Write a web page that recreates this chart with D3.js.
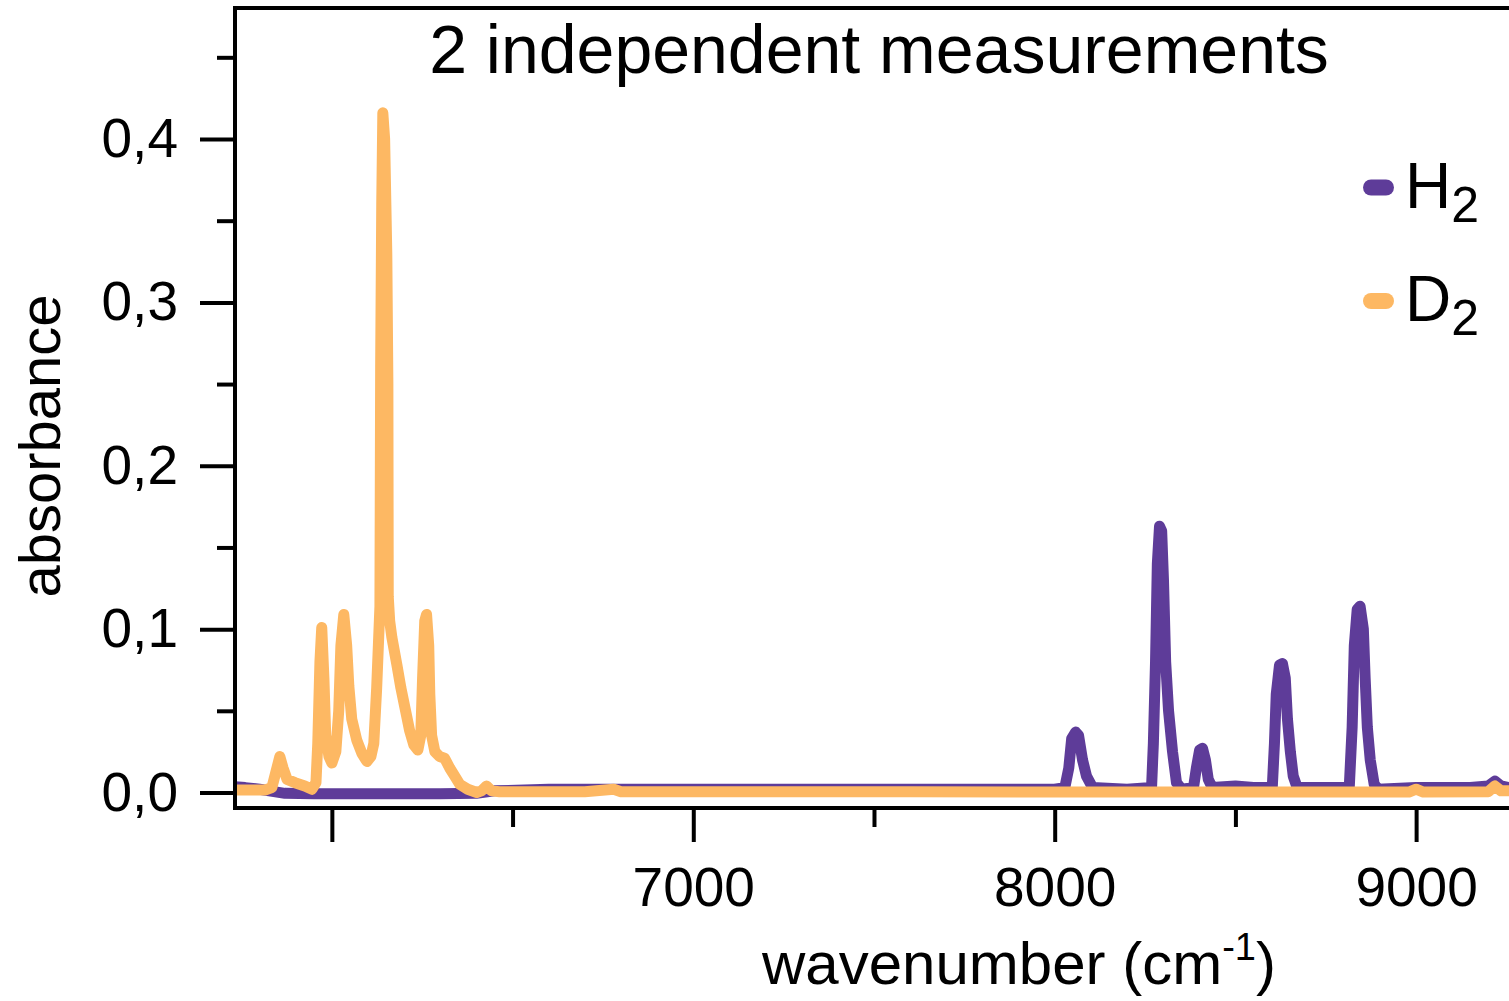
<!DOCTYPE html>
<html>
<head>
<meta charset="utf-8">
<script src="https://cdn.jsdelivr.net/npm/d3@7"></script>
<style>
  body { margin: 0; background: #fff; }
  svg { display: block; font-family: 'Liberation Sans', Arial, sans-serif; }
</style>
</head>
<body>
<svg id="chart"></svg>
<script>
// D2 spectrum
const d2Wavenumber = [5732, 5815, 5834, 5848, 5856, 5865, 5876, 5898, 5925, 5945, 5956, 5961, 5967, 5972, 5978, 5983,
  5992, 6000, 6011, 6019, 6025, 6033, 6041, 6047, 6055, 6069, 6083, 6097, 6108, 6116, 6124, 6133, 6135, 6138, 6141,
  6146, 6152, 6155, 6156, 6160, 6166, 6180, 6191, 6204, 6215, 6227, 6238, 6246, 6251, 6257, 6262, 6268, 6271, 6276,
  6285, 6298, 6312, 6326, 6340, 6354, 6376, 6401, 6414, 6428, 6442, 6464, 6700, 6780, 6800, 7200, 7600, 8000, 8500,
  8980, 9000, 9020, 9200, 9218, 9235, 9257];
const d2Absorbance = [0.0015, 0.0015, 0.003, 0.015, 0.022, 0.015, 0.008, 0.006, 0.004, 0.002, 0.006, 0.03, 0.08, 0.101, 0.07, 0.035,
  0.022, 0.018, 0.025, 0.05, 0.09, 0.109, 0.09, 0.065, 0.045, 0.032, 0.024, 0.019, 0.022, 0.03, 0.064, 0.114, 0.26, 0.36, 0.416,
  0.40, 0.33, 0.25, 0.12, 0.105, 0.095, 0.078, 0.064, 0.05, 0.038, 0.029, 0.026, 0.035, 0.07, 0.105, 0.109, 0.09, 0.06, 0.035,
  0.025, 0.022, 0.021, 0.015, 0.01, 0.005, 0.002, 0.0, 0.001, 0.004, 0.001, 0.0005, 0.0005, 0.002, 0.0005, 0.0005, 0.0005, 0.0003, 0.0003,
  0.0003, 0.002, 0.0003, 0.0005, 0.004, 0.001, 0.001];

// H2 spectrum
const h2Wavenumber = [5732, 5760, 5800, 5840, 5870, 5950, 6100, 6300, 6400, 6450, 6600, 7000, 7500, 8000,
  8028, 8039, 8047, 8058, 8066, 8077, 8088, 8105, 8200,
  8268, 8273, 8279, 8284, 8290, 8296, 8301, 8307, 8315, 8326, 8337, 8351,
  8384, 8392, 8401, 8409, 8417, 8425, 8436, 8500, 8550,
  8602, 8608, 8613, 8622, 8630, 8638, 8644, 8652, 8660, 8671, 8750,
  8815, 8823, 8829, 8837, 8845, 8854, 8859, 8865, 8873, 8884, 8895,
  9000, 9150, 9200, 9218, 9235, 9257];
const h2Absorbance = [0.0035, 0.003, 0.002, 0.0005, -0.0005, -0.0008, -0.0008, -0.0008, -0.0005, 0.001, 0.002, 0.002, 0.002, 0.002,
  0.003, 0.015, 0.033, 0.037, 0.035, 0.02, 0.01, 0.003, 0.002,
  0.003, 0.03, 0.08, 0.14, 0.163, 0.16, 0.13, 0.08, 0.05, 0.025, 0.006, 0.002,
  0.003, 0.015, 0.026, 0.027, 0.02, 0.008, 0.003, 0.004, 0.003,
  0.003, 0.03, 0.06, 0.078, 0.079, 0.07, 0.045, 0.025, 0.01, 0.003, 0.003,
  0.003, 0.04, 0.09, 0.112, 0.114, 0.1, 0.07, 0.04, 0.02, 0.005, 0.002,
  0.003, 0.003, 0.004, 0.007, 0.004, 0.003];

const xMajorTicks = [6000, 7000, 8000, 9000];
const xMinorTicks = [6500, 7500, 8500];
const xTickLabels = ['', '7000', '8000', '9000'];
const yMajorTicks = [0, 0.1, 0.2, 0.3, 0.4];
const yMinorTicks = [0.05, 0.15, 0.25, 0.35, 0.45];
const yTickLabels = ['0,0', '0,1', '0,2', '0,3', '0,4'];
const seriesNames = ['H', 'D'];
const seriesColors = ['#5e3c99', '#fdb863'];

const width = 1509, height = 1001;
const plot = {left: 235, right: 1509, top: 8, bottom: 808};

const svg = d3.select('#chart')
    .attr('width', width)
    .attr('height', height);

// scales
const x = d3.scaleLinear()
    .domain([5732, 9257])
    .range([plot.left, plot.right]);
const y = d3.scaleLinear()
    .domain([0, 0.4])
    .range([792.5, 139]);

// clip the spectra to the frame
svg.append('defs').append('clipPath')
    .attr('id', 'plot-clip')
  .append('rect')
    .attr('x', plot.left)
    .attr('y', plot.top)
    .attr('width', plot.right - plot.left)
    .attr('height', plot.bottom - plot.top);

const line = d3.line()
    .x(d => x(d[0]))
    .y(d => y(d[1]));

const h2Data = h2Wavenumber.map((w, i) => [w, h2Absorbance[i]]);
const d2Data = d2Wavenumber.map((w, i) => [w, d2Absorbance[i]]);

const lines = svg.append('g').attr('clip-path', 'url(#plot-clip)');
[h2Data, d2Data].forEach((data, i) => {
  lines.append('path')
      .datum(data)
      .attr('fill', 'none')
      .attr('stroke', seriesColors[i])
      .attr('stroke-width', 11)
      .attr('stroke-linejoin', 'round')
      .attr('stroke-linecap', 'round')
      .attr('d', line);
});

// y axis: major + minor ticks
const yAxisMajor = d3.axisLeft(y)
    .tickValues(yMajorTicks)
    .tickSize(35)
    .tickPadding(22)
    .tickFormat((d, i) => yTickLabels[i]);
const yAxisMinor = d3.axisLeft(y)
    .tickValues(yMinorTicks)
    .tickSize(18)
    .tickFormat('');

svg.append('g')
    .attr('transform', `translate(${plot.left},0)`)
    .call(yAxisMajor);
svg.append('g')
    .attr('transform', `translate(${plot.left},0)`)
    .call(yAxisMinor);

// x axis
const xAxisMajor = d3.axisBottom(x)
    .tickValues(xMajorTicks)
    .tickSize(34)
    .tickPadding(25)
    .tickFormat((d, i) => xTickLabels[i]);
const xAxisMinor = d3.axisBottom(x)
    .tickValues(xMinorTicks)
    .tickSize(19)
    .tickFormat('');

svg.append('g')
    .attr('transform', `translate(0,${plot.bottom})`)
    .call(xAxisMajor);
svg.append('g')
    .attr('transform', `translate(0,${plot.bottom})`)
    .call(xAxisMinor);

svg.selectAll('.domain').remove();
svg.selectAll('.tick line')
    .attr('stroke', '#000')
    .attr('stroke-width', 4);
svg.selectAll('.tick text')
    .attr('fill', '#000')
    .style('font-family', "'Liberation Sans', Arial, sans-serif")
    .style('font-size', '55px');

// frame (left, top, bottom)
svg.append('path')
    .attr('d', `M${plot.right},${plot.top}H${plot.left}V${plot.bottom}H${plot.right}`)
    .attr('fill', 'none')
    .attr('stroke', '#000')
    .attr('stroke-width', 4);

// title
svg.append('text')
    .attr('x', 879)
    .attr('y', 73)
    .attr('text-anchor', 'middle')
    .style('font-size', '68px')
    .text('2 independent measurements');

// axis titles
const xLabel = svg.append('text')
    .attr('x', 762)
    .attr('y', 984)
    .style('font-size', '60px');
xLabel.append('tspan').text('wavenumber (cm');
xLabel.append('tspan').attr('dy', -24).style('font-size', '38px').text('-1');
xLabel.append('tspan').attr('dy', 24).text(')');

svg.append('text')
    .attr('transform', 'translate(60,446) rotate(-90)')
    .attr('text-anchor', 'middle')
    .style('font-size', '58px')
    .text('absorbance');

// legend
const legendY = [187.5, 301];
seriesNames.forEach((name, i) => {
  const g = svg.append('g').attr('transform', `translate(0,${legendY[i]})`);
  g.append('line')
      .attr('x1', 1371).attr('x2', 1386)
      .attr('stroke', seriesColors[i])
      .attr('stroke-width', 16)
      .attr('stroke-linecap', 'round');
  const t = g.append('text')
      .attr('x', 1405)
      .attr('y', 20)
      .style('font-size', '64px');
  t.append('tspan').text(name);
  t.append('tspan').attr('dy', 14).style('font-size', '50px').text('2');
});
</script>
</body>
</html>
